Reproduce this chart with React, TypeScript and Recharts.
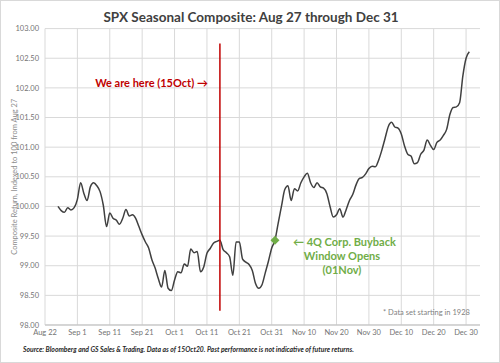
import { CartesianGrid, Line, LineChart, ReferenceDot, ReferenceLine, XAxis, YAxis } from 'recharts';

// Day offsets counted from Aug 22 (the first x tick).
const days = [
  4, 5, 6, 7, 8, 9, 10, 11, 12, 13, 14, 15, 16, 17, 18, 19, 20, 21, 22, 23, 24, 25, 26, 27, 28, 29, 30, 31, 32, 33,
  34, 35, 36, 37, 38, 39, 40, 41, 42, 43, 44, 45, 46, 47, 48, 49, 50, 51, 52, 53, 54, 55, 56, 57, 58, 59, 60, 61, 62,
  63, 64, 65, 66, 67, 68, 69, 70, 71, 72, 73, 74, 75, 76, 77, 78, 79, 80, 81, 82, 83, 84, 85, 86, 87, 88, 89, 90, 91,
  92, 93, 94, 95, 96, 97, 98, 99, 100, 101, 102, 103, 104, 105, 106, 107, 108, 109, 110, 111, 112, 113, 114, 115, 116,
  117, 118, 119, 120, 121, 122, 123, 124, 125, 126, 127, 128, 129, 130, 131
];
const composite = [
  100.0, 99.93, 99.9, 99.98, 99.94, 99.98, 100.12, 100.4, 100.22, 100.1, 100.33, 100.4, 100.35, 100.25, 100.02, 99.66,
  99.89, 99.8, 99.77, 99.7, 99.8, 99.95, 99.84, 99.86, 99.8, 99.66, 99.52, 99.4, 99.3, 99.1, 98.96, 98.78, 98.64, 98.92,
  98.62, 98.58, 98.76, 98.9, 98.88, 99.03, 98.99, 99.28, 99.22, 99.24, 98.9, 98.98, 99.21, 99.29, 99.38, 99.41, 99.43,
  99.27, 99.22, 99.15, 98.84, 99.4, 99.4, 99.11, 99.06, 99.02, 98.92, 98.7, 98.62, 98.68, 98.88, 99.08, 99.3, 99.43,
  99.72, 100.0, 100.28, 100.35, 100.1, 100.3, 100.26, 100.4, 100.5, 100.56, 100.4, 100.32, 100.4, 100.33, 100.31,
  100.22, 100.0, 99.82, 99.86, 99.96, 99.82, 99.95, 100.1, 100.2, 100.36, 100.47, 100.49, 100.55, 100.64, 100.68,
  100.67, 100.78, 100.95, 101.15, 101.35, 101.42, 101.34, 101.32, 101.22, 101.02, 100.88, 100.85, 100.72, 100.74,
  100.88, 100.95, 101.12, 101.03, 100.96, 101.08, 101.12, 101.2, 101.3, 101.55, 101.67, 101.68, 101.75, 102.2, 102.5,
  102.61
];

const xTicks = [0, 10, 20, 30, 40, 50, 60, 70, 80, 90, 100, 110, 120, 130];
const xTickLabels = [
  'Aug 22', 'Sep 1', 'Sep 11', 'Sep 21', 'Oct 1', 'Oct 11', 'Oct 21', 'Oct 31',
  'Nov 10', 'Nov 20', 'Nov 30', 'Dec 10', 'Dec 20', 'Dec 30'
];
const yTicks = [98, 98.5, 99, 99.5, 100, 100.5, 101, 101.5, 102, 102.5, 103];

const weAreHere = { day: 54, top: 102.75, bottom: 98.24, textAt: 102.08 };
const buyback = { day: 71, value: 99.43 };

const data = days.map((d, i) => ({ day: d, value: composite[i] }));

const FONT = 'Lato, "Open Sans", sans-serif';
const GREEN = '#70ad47';
const RED = '#c00000';
const AXIS_TEXT = '#737373';

function tickLabel(v: number) {
  const i = xTicks.indexOf(v);
  return i >= 0 ? xTickLabels[i] : '';
}

function HereText(props: { cx?: number; cy?: number }) {
  const { cx = 0, cy = 0 } = props;
  return (
    <text x={cx - 12} y={cy} dy="0.35em" textAnchor="end" fill={RED} fontSize={11} fontWeight={700} fontFamily={FONT}>
      We are here (15Oct) →
    </text>
  );
}

function BuybackMark(props: { cx?: number; cy?: number }) {
  const { cx = 0, cy = 0 } = props;
  const s = 4.5;
  const mid = cx + 67;
  return (
    <g fontFamily={FONT} fontSize={11} fontWeight={700} fill={GREEN}>
      <path d={`M${cx},${cy - s} L${cx + s},${cy} L${cx},${cy + s} L${cx - s},${cy} Z`} fill={GREEN} />
      <text x={cx + 18} y={cy + 2} dy="0.35em">
        ←  4Q Corp. Buyback
      </text>
      <text x={mid} y={cy + 16} dy="0.35em" textAnchor="middle">
        Window Opens
      </text>
      <text x={mid} y={cy + 30} dy="0.35em" textAnchor="middle">
        (01Nov)
      </text>
    </g>
  );
}

export default function App() {
  return (
    <div
      style={{
        position: 'absolute',
        left: 0,
        top: 0,
        width: 500,
        height: 363,
        background: '#fff',
        boxSizing: 'border-box',
        border: '1px solid #d9d9d9',
        fontFamily: FONT
      }}
    >
      <div
        style={{
          position: 'absolute',
          top: 6,
          left: 0,
          width: 500,
          textAlign: 'center',
          fontSize: 13.5,
          fontWeight: 700,
          color: '#404040',
          lineHeight: '20px'
        }}
      >
        SPX Seasonal Composite: Aug 27 through Dec 31
      </div>
      <div style={{ position: 'absolute', left: -1, top: -1 }}>
        <LineChart width={500} height={363} data={data} margin={{ top: 28.6, right: 20, bottom: 18, left: 8 }}>
          <CartesianGrid stroke="#d9d9d9" strokeWidth={1} horizontalValues={yTicks} verticalValues={xTicks} />
          <XAxis
            dataKey="day"
            type="number"
            domain={[0, 134.3]}
            ticks={xTicks}
            tickFormatter={tickLabel}
            interval={0}
            height={20}
            tickSize={3}
            tickMargin={2}
            tickLine={false}
            axisLine={{ stroke: '#bfbfbf' }}
            tick={{ fill: AXIS_TEXT, fontSize: 7.5, fontFamily: FONT }}
          />
          <YAxis
            type="number"
            domain={[98, 103]}
            ticks={yTicks}
            interval={0}
            tickFormatter={(v: number) => v.toFixed(2)}
            width={37}
            tickSize={6}
            tickMargin={0}
            tickLine={false}
            axisLine={false}
            tick={{ fill: AXIS_TEXT, fontSize: 7.5, fontFamily: FONT }}
            label={{
              value: 'Composite Return, Indexed to 100 from Aug 27',
              angle: -90,
              position: 'insideLeft',
              offset: 6,
              style: { textAnchor: 'middle', fill: '#8c8c8c', fontSize: 7.5, fontFamily: FONT }
            }}
          />
          <Line
            type="monotone"
            dataKey="value"
            stroke="#404040"
            strokeWidth={1.5}
            dot={false}
            activeDot={false}
            isAnimationActive={false}
          />
          <ReferenceLine
            segment={[
              { x: weAreHere.day, y: weAreHere.bottom },
              { x: weAreHere.day, y: weAreHere.top }
            ]}
            stroke={RED}
            strokeWidth={1.5}
          />
          <ReferenceDot x={weAreHere.day} y={weAreHere.textAt} r={0} shape={<HereText />} />
          <ReferenceDot x={buyback.day} y={buyback.value} r={5} shape={<BuybackMark />} />
        </LineChart>
      </div>
      <div style={{ position: 'absolute', left: 382, top: 307, fontSize: 7.5, color: '#7f7f7f' }}>
        * Data set starting in 1928
      </div>
      <div
        style={{
          position: 'absolute',
          left: 22,
          top: 344,
          fontSize: 6.8,
          fontWeight: 700,
          fontStyle: 'italic',
          color: '#262626',
          whiteSpace: 'nowrap'
        }}
      >
        Source: Bloomberg and GS Sales &amp; Trading. Data as of 15Oct20. Past performance is not indicative of future
        returns.
      </div>
    </div>
  );
}
